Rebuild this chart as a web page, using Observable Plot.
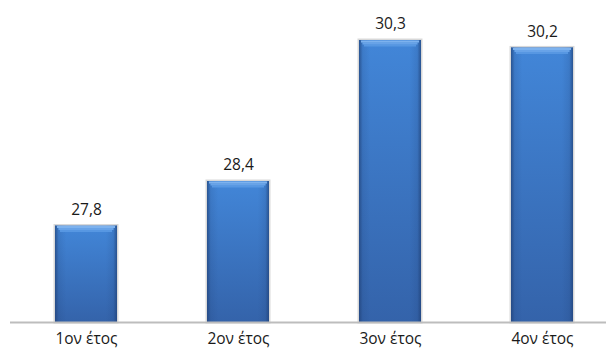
<!DOCTYPE html>
<html>
<head>
<meta charset="utf-8">
<script src="https://cdn.jsdelivr.net/npm/d3@7"></script>
<script src="https://cdn.jsdelivr.net/npm/@observablehq/plot@0.6"></script>
<style>
  body { margin: 0; background: #fff; }
  #chart { width: 606px; height: 351px; }
</style>
</head>
<body>
<div id="chart"></div>
<script>
const categories = ["1ον έτος", "2ον έτος", "3ον έτος", "4ον έτος"];
const values = [27.8, 28.4, 30.3, 30.2];
const yBase = 26.5;

const data = categories.map((c, i) => ({ year: c, value: values[i], label: values[i].toFixed(1).replace(".", ",") }));

const defs = () => {
  const g = document.createElementNS("http://www.w3.org/2000/svg", "defs");
  g.innerHTML = `
    <linearGradient id="barFill" x1="0" y1="0" x2="0" y2="1">
      <stop offset="0" stop-color="#4286d8"/>
      <stop offset="1" stop-color="#3463aa"/>
    </linearGradient>
    <linearGradient id="barEdge" x1="0" y1="0" x2="1" y2="0">
      <stop offset="0" stop-color="#1f3f74" stop-opacity="0.7"/>
      <stop offset="0.06" stop-color="#1f3f74" stop-opacity="0.15"/>
      <stop offset="0.18" stop-color="#1f3f74" stop-opacity="0"/>
      <stop offset="0.82" stop-color="#1f3f74" stop-opacity="0"/>
      <stop offset="0.94" stop-color="#1f3f74" stop-opacity="0.15"/>
      <stop offset="1" stop-color="#1f3f74" stop-opacity="0.7"/>
    </linearGradient>`;
  return g;
};

const chart = Plot.plot({
  width: 606,
  height: 351,
  marginLeft: 10,
  marginRight: 0,
  marginTop: 40,
  marginBottom: 29,
  style: { fontFamily: "'Open Sans', sans-serif", color: "#1a1a1a", background: "#fff" },
  x: { type: "band", domain: categories, range: [10, 618], paddingInner: 0.59, paddingOuter: 0.295, label: null },
  y: { domain: [yBase, 30.3], axis: null },
  marks: [
    defs,
    Plot.barY(data, { x: "year", y1: yBase, y2: "value", fill: "none", stroke: "#a8a8a8", strokeOpacity: 0.45, strokeWidth: 3 }),
    Plot.barY(data, { x: "year", y1: yBase, y2: "value", fill: "url(#barFill)" }),
    Plot.barY(data, { x: "year", y1: yBase, y2: "value", fill: "url(#barEdge)" }),
    Plot.tickY(data, { x: "year", y: "value", dy: 5, strokeWidth: 2, stroke: "#5797e2", inset: 5 }),
    Plot.tickY(data, { x: "year", y: "value", dy: 3, strokeWidth: 2, stroke: "#68a3e8", inset: 3.5 }),
    Plot.tickY(data, { x: "year", y: "value", dy: 1, strokeWidth: 2, stroke: "#7db2ee", inset: 2 }),
    Plot.ruleY([yBase], { stroke: "#bdbdbd", strokeWidth: 2 }),
    Plot.text(data, { x: "year", y: "value", text: "label", dy: -16, fontSize: 15.5, fill: "#1a1a1a" }),
    Plot.axisX({ tickSize: 0, tickPadding: 10, fontSize: 15.5, label: null, fill: "#1a1a1a" })
  ]
});
document.getElementById("chart").appendChild(chart);
</script>
</body>
</html>
